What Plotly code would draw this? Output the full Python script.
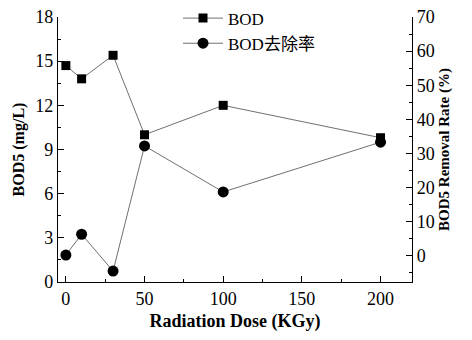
import plotly.graph_objects as go

dose = [0, 10, 30, 50, 100, 200]
bod = [14.7, 13.8, 15.4, 10.0, 12.0, 9.8]
removal = [0.2, 6.3, -4.5, 32.2, 18.7, 33.3]

font_family = "'Liberation Serif', 'Noto Sans CJK SC', serif"
line_color = "#707070"

fig = go.Figure()
fig.add_trace(go.Scatter(
    x=dose, y=bod, name="BOD", mode="lines+markers",
    line=dict(color=line_color, width=1),
    marker=dict(symbol="square", size=9, color="black"),
))
fig.add_trace(go.Scatter(
    x=dose, y=removal, name="BOD去除率", mode="lines+markers", yaxis="y2",
    line=dict(color=line_color, width=1),
    marker=dict(symbol="circle", size=11, color="black"),
))

axis_common = dict(
    showline=True, linecolor="black", linewidth=1.2,
    ticks="inside", ticklen=6, tickwidth=1, tickcolor="black",
    showgrid=False, zeroline=False, automargin=False,
    ticklabeloverflow="allow",
    tickfont=dict(family=font_family, size=18, color="black"),
)

fig.update_layout(
    width=464, height=332,
    margin=dict(l=50, r=60, t=9, b=58, autoexpand=False),
    paper_bgcolor="white", plot_bgcolor="white",
    font=dict(family=font_family, color="black"),
    showlegend=True,
    legend=dict(x=0.339, y=1.062, xanchor="left", yanchor="top",
                bgcolor="rgba(0,0,0,0)", font=dict(size=17, family=font_family),
                tracegroupgap=0, itemwidth=40),
    xaxis=dict(
        **axis_common, range=[-5, 220], tickmode="array",
        tickvals=[0, 50, 100, 150, 200],
        minor=dict(ticks="inside", ticklen=3, tickcolor="black", dtick=25, tick0=0),
        title=dict(text="<b>Radiation Dose (KGy)</b>", font=dict(size=18, family=font_family), standoff=6),
    ),
    yaxis=dict(
        **axis_common, range=[0, 18], tickvals=[0, 3, 6, 9, 12, 15, 18],
        minor=dict(ticks="inside", ticklen=3, tickcolor="black", dtick=1.5, tick0=0),
        title=dict(text="<b>BOD5 (mg/L)</b>", font=dict(size=16, family=font_family), standoff=6),
    ),
    yaxis2=dict(
        **axis_common, overlaying="y", side="right", anchor="x",
        range=[-7.7, 70], tickvals=[0, 10, 20, 30, 40, 50, 60, 70],
        minor=dict(ticks="inside", ticklen=3, tickcolor="black", dtick=5, tick0=0),
        title=dict(text="<b>BOD5 Removal Rate (%)</b>", font=dict(size=15, family=font_family), standoff=4),
    ),
)

fig.write_html("out.html")
